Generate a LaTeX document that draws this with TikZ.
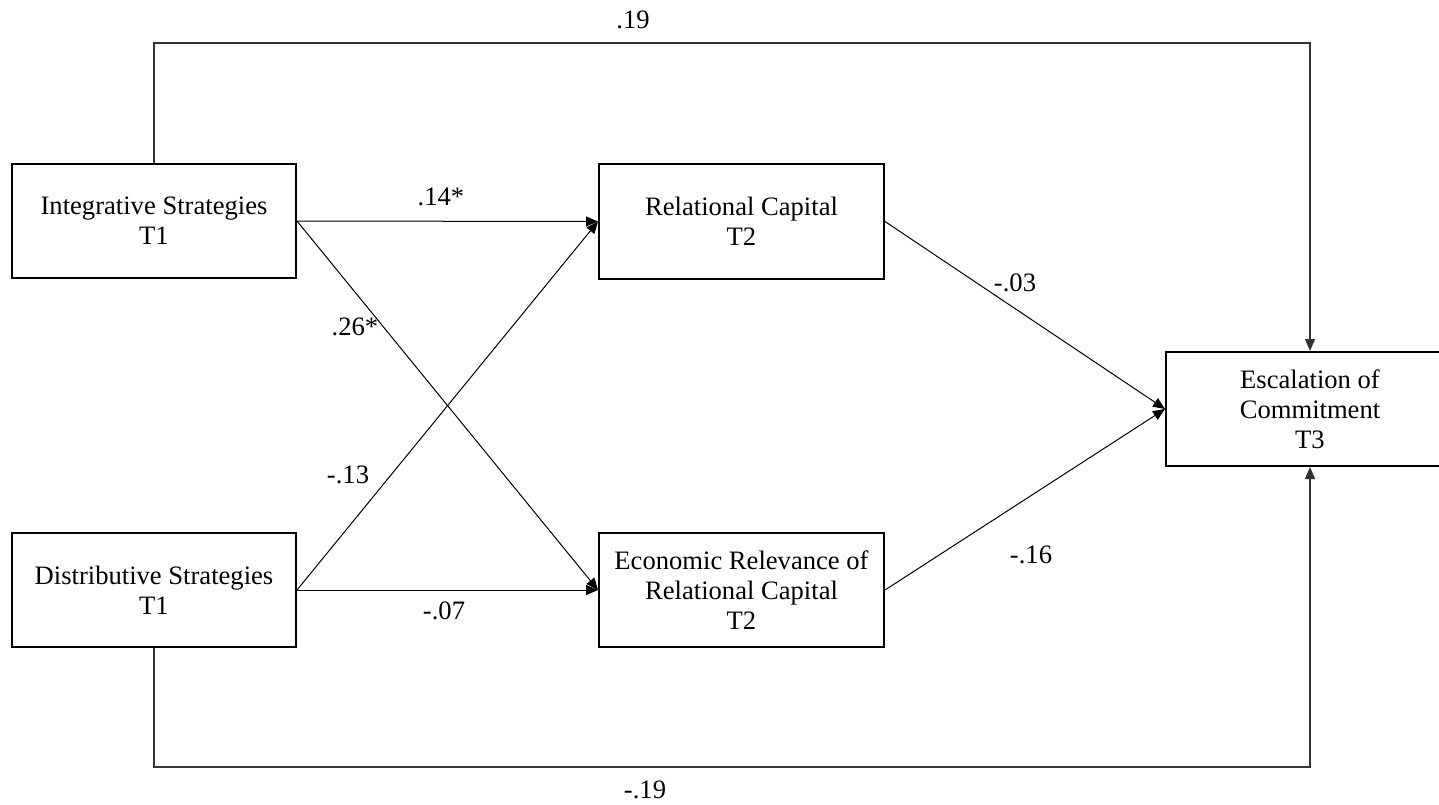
\documentclass[tikz,border=0pt]{standalone}
\usepackage{fontspec}
\setmainfont{Liberation Serif}
\usetikzlibrary{arrows.meta}
\begin{document}
\begin{tikzpicture}[x=0.5pt,y=-0.5pt,
  every node/.style={font=\fontsize{13.3}{15}\selectfont},
  varbox/.style={draw, line width=1pt, align=center, inner sep=0pt},
  path/.style={line width=0.5pt, -{Triangle[length=6pt,width=5pt]}},
  longpath/.style={line width=0.7pt, draw=black!80, -{Triangle[length=6pt,width=5pt]}},
  coef/.style={inner sep=1pt}]
\useasboundingbox (0,0) rectangle (1439,804);
\clip (0,0) rectangle (1439,804);

% variables
\node[varbox, minimum width=142pt, minimum height=57pt] (int) at (154,221) {Integrative Strategies\\T1};
\node[varbox, minimum width=142pt, minimum height=57pt] (dist) at (154,590) {Distributive Strategies\\T1};
\node[varbox, minimum width=142.5pt, minimum height=57.5pt] (rel) at (741.5,221.5) {Relational Capital\\T2};
\node[varbox, minimum width=142.5pt, minimum height=57pt] (eco) at (741.5,590) {Economic Relevance of\\Relational Capital\\T2};
\node[varbox, minimum width=144pt, minimum height=57pt] (esc) at (1310,409) {Escalation of\\Commitment\\T3};

% corner points of the direct paths
\coordinate (tl) at (154,43);
\coordinate (tr) at (1310,43);
\coordinate (bl) at (154,767);
\coordinate (br) at (1310,767);

% direct effects on escalation
\draw[longpath] (int.north) -- (tl) -- (tr) -- (esc.north);
\draw[longpath] (dist.south) -- (bl) -- (br) -- (esc.south);

% paths to the mediators
\draw[path] (int.east) -- (rel.west);
\draw[path] (int.east) -- (eco.west);
\draw[path] (dist.east) -- (rel.west);
\draw[path] (dist.east) -- (eco.west);

% paths from the mediators
\draw[path] (rel.east) -- (esc.west);
\draw[path] (eco.east) -- (esc.west);

% coefficients
\node[coef] (c1) at (633,20) {.19};
\node[coef] (c2) at (441,197) {.14*};
\node[coef] (c3) at (355,327) {.26*};
\node[coef] (c4) at (348,475) {-.13};
\node[coef] (c5) at (444,611) {-.07};
\node[coef] (c6) at (1015,283) {-.03};
\node[coef] (c7) at (1031,555) {-.16};
\node[coef] (c8) at (645,790) {-.19};
\end{tikzpicture}
\end{document}
